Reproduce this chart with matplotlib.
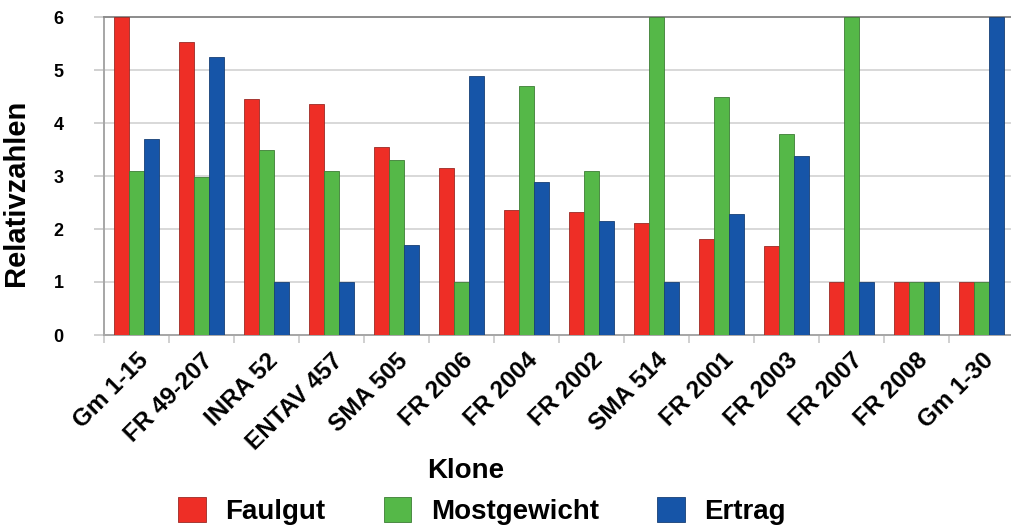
import numpy as np
import matplotlib.pyplot as plt

plt.rcParams["font.family"] = ["Liberation Sans", "DejaVu Sans"]
plt.rcParams["font.weight"] = "bold"

klone = ["Gm 1-15", "FR 49-207", "INRA 52", "ENTAV 457", "SMA 505", "FR 2006",
         "FR 2004", "FR 2002", "SMA 514", "FR 2001", "FR 2003", "FR 2007",
         "FR 2008", "Gm 1-30"]

faulgut = [6.0, 5.52, 4.46, 4.36, 3.54, 3.15, 2.35, 2.33, 2.12, 1.82, 1.67, 1.0, 1.0, 1.0]
mostgewicht = [3.10, 2.99, 3.49, 3.10, 3.30, 1.0, 4.70, 3.10, 6.0, 4.50, 3.79, 6.0, 1.0, 1.0]
ertrag = [3.69, 5.24, 1.0, 1.0, 1.70, 4.89, 2.89, 2.16, 1.0, 2.28, 3.38, 1.0, 1.0, 6.0]

series = [
    ("Faulgut", faulgut, "#ee2e26", "#9a2a25"),
    ("Mostgewicht", mostgewicht, "#55b848", "#3d7d35"),
    ("Ertrag", ertrag, "#1655a8", "#173f75"),
]

W, H = 1011, 526
fig = plt.figure(figsize=(W / 100, H / 100), dpi=100)
ax = fig.add_axes([104 / W, 191 / H, 910 / W, 318 / H])

x = np.arange(len(klone))
width = 0.23
handles = []
for k, (name, vals, col, edge) in enumerate(series):
    b = ax.bar(x + (k - 1) * width, vals, width, color=col, edgecolor=edge,
               linewidth=0.6, label=name, zorder=3)
    handles.append(b)

ax.set_xlim(-0.5, len(klone) - 0.5)
ax.set_ylim(0, 6)
ax.set_yticks(range(0, 7))
ax.yaxis.grid(True, color="#d2d2d2", linewidth=1.2, zorder=0)

# ticks between groups, labels at group centres
ax.set_xticks(np.arange(-0.5, len(klone), 1.0))
ax.set_xticklabels([])
ax.set_xticks(x, minor=True)
ax.set_xticklabels(klone, minor=True, rotation=45, ha="right", va="top",
                   rotation_mode="anchor", fontsize=17.5, fontweight="bold")
ax.tick_params(axis="x", which="major", length=6, color="#c8c8c8", width=1.2)
ax.tick_params(axis="x", which="minor", length=0, pad=10)
ax.tick_params(axis="y", length=7, color="#c8c8c8", width=1.2, pad=22,
               labelsize=13)
for lab in ax.get_yticklabels():
    lab.set_fontweight("bold")

for side in ["left", "bottom"]:
    ax.spines[side].set_color("#a6a6a6")
    ax.spines[side].set_linewidth(1.4)
ax.spines["top"].set_color("#8c8c8c")
ax.spines["top"].set_linewidth(1.4)
ax.spines["right"].set_visible(False)

ax.set_ylabel("Relativzahlen", fontsize=21, fontweight="bold", va="center")
ax.yaxis.set_label_coords(-0.097, 0.447)

fig.text(466 / W, 48 / H, "Klone", fontsize=20, fontweight="bold",
         ha="center", va="baseline")

fig.legend(handles=handles, loc="lower left", bbox_to_anchor=(178 / W, 0.002),
           ncol=3, frameon=False, borderpad=0, borderaxespad=0,
           handlelength=1.0, handleheight=1.0, handletextpad=0.7,
           columnspacing=2.1, prop={"weight": "bold", "size": 20})

fig.savefig("out.png", dpi=100)
